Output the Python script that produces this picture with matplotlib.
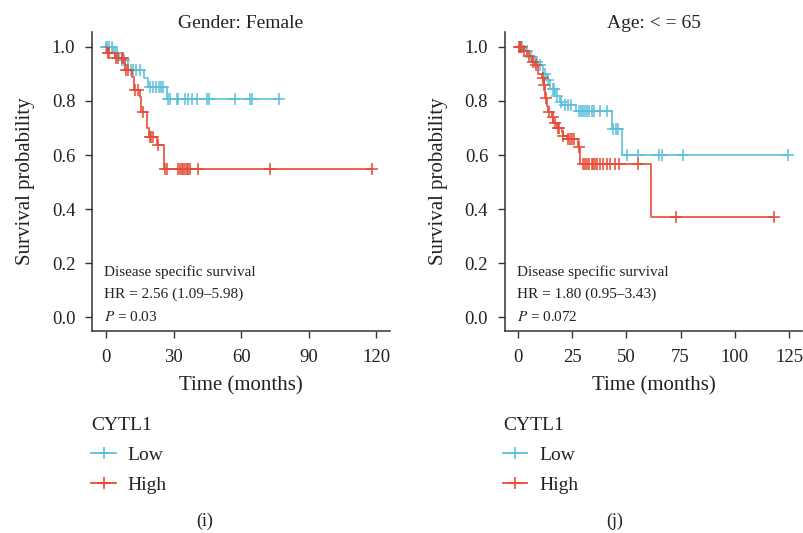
import numpy as np
import matplotlib.pyplot as plt
from matplotlib.lines import Line2D

plt.rcParams['font.family'] = ['Liberation Serif', 'DejaVu Serif']
plt.rcParams['mathtext.fontset'] = 'stix'

# --- (i) Gender: Female ---
f_low_t = [0, 3, 6, 10, 17, 18.5, 27]
f_low_s = [1.0, 0.976, 0.95, 0.914, 0.885, 0.853, 0.807]
f_low_cens = [0, 0.5, 1.5, 2.5, 4, 5, 7, 8, 11, 12, 13.5, 15, 19.5, 21, 22, 23.5, 24.5,
              25.5, 27.7, 28.4, 31.4, 32.1, 35.1, 36.6, 38.1, 40.3, 44.7, 45.5, 57.3,
              64, 64.7, 76.6]
f_high_t = [0, 0.5, 4, 8.4, 11.5, 12.5, 15, 15.7, 18, 19, 22.5, 25.8]
f_high_s = [1.0, 0.978, 0.96, 0.914, 0.89, 0.84, 0.815, 0.76, 0.70, 0.667, 0.636, 0.549]
f_high_cens = [1, 1.5, 4.5, 5.4, 7, 7.6, 9, 10, 13, 14, 16.5, 19.5, 20, 21, 23, 26.2, 27,
               32.1, 32.9, 33.6, 34.4, 35.1, 35.9, 36.6, 37.3, 41, 72.9, 118]

# --- (j) Age <= 65 ---
a_low_t = [0, 3.2, 5.5, 7, 9.4, 11.7, 13.2, 14.8, 17, 19.4, 20.1, 27, 43.2, 47.8]
a_low_s = [1.0, 0.983, 0.964, 0.945, 0.933, 0.90, 0.877, 0.846, 0.82, 0.797, 0.784,
           0.763, 0.695, 0.60]
a_low_cens = [1, 2, 4, 6, 8, 8.6, 10, 12.5, 14, 16, 16.5, 18, 19.8, 21.7, 23, 24.5, 28,
              29, 30, 31, 32, 33, 34, 35, 38, 41, 44, 45.2, 46.3, 50.1, 55.5, 65.2,
              66.3, 76, 124.7]
a_high_t = [0, 2.5, 4, 6.3, 7.8, 9.3, 10.9, 12, 12.5, 13.2, 14, 15.5, 16.3, 17.9, 20.1,
            20.9, 22.5, 27.8, 28.6, 61.3]
a_high_s = [1.0, 0.983, 0.966, 0.945, 0.933, 0.90, 0.884, 0.86, 0.81, 0.78, 0.76, 0.74,
            0.72, 0.70, 0.685, 0.67, 0.66, 0.63, 0.567, 0.373]
a_high_cens = [0.5, 1, 1.5, 3, 5, 7, 8.5, 11.5, 12.2, 13, 14.5, 16, 17, 18.5, 19, 21,
               23, 24, 25, 26, 28, 30.1, 30.9, 32, 32.9, 34, 34.7, 35.5, 36.3, 37.8,
               39.4, 40.9, 42.4, 44.7, 46.7, 55.5, 72.9, 118]

LOW_C = '#5BC0DA'
HIGH_C = '#E64B35'
TXT = '#222222'


def draw_km(ax, t, s, cens, color):
    t = np.asarray(t, float)
    s = np.asarray(s, float)
    end = max(t.max(), max(cens))
    x = np.append(t, end)
    y = np.append(s, s[-1])
    ax.step(x, y, where='post', color=color, lw=1.4, alpha=0.85)
    idx = np.searchsorted(t, cens, side='right') - 1
    ax.plot(cens, s[idx], ls='none', marker='+', ms=9, mew=1.4, color=color, alpha=0.8)


def style_axes(ax, xticks, xlim, title, lines):
    ax.set_xlim(*xlim)
    ax.set_ylim(-0.05, 1.055)
    ax.set_xticks(xticks)
    ax.set_yticks([0, 0.2, 0.4, 0.6, 0.8, 1.0])
    ax.set_yticklabels(['0.0', '0.2', '0.4', '0.6', '0.8', '1.0'])
    for side in ('top', 'right'):
        ax.spines[side].set_visible(False)
    for side in ('left', 'bottom'):
        ax.spines[side].set_color('#333333')
        ax.spines[side].set_linewidth(1.1)
    ax.tick_params(direction='out', length=5, width=1, colors='#333333',
                   labelsize=13.5, labelcolor=TXT)
    ax.tick_params(axis='y', pad=7)
    ax.tick_params(axis='x', pad=8)
    ax.set_title(title, fontsize=14, color=TXT, pad=2)
    ax.set_xlabel('Time (months)', fontsize=15, color=TXT, labelpad=7)
    ax.set_ylabel('Survival probability', fontsize=15, color=TXT, labelpad=12)
    ys = [0.197, 0.122, 0.048]
    for txt, yy in zip(lines, ys):
        ax.text(0.04, yy, txt, transform=ax.transAxes, fontsize=11, color=TXT,
                va='center', ha='left')


fig = plt.figure(figsize=(8.04, 5.33), dpi=100)
ax1 = fig.add_axes([0.1144, 0.379, 0.3706, 0.561])
ax2 = fig.add_axes([0.628, 0.379, 0.3695, 0.561])

draw_km(ax1, f_low_t, f_low_s, f_low_cens, LOW_C)
draw_km(ax1, f_high_t, f_high_s, f_high_cens, HIGH_C)
style_axes(ax1, [0, 30, 60, 90, 120], (-6.2, 126), 'Gender: Female',
           ['Disease specific survival', 'HR = 2.56 (1.09\u20135.98)', r'$\it{P}$ = 0.03'])

draw_km(ax2, a_low_t, a_low_s, a_low_cens, LOW_C)
draw_km(ax2, a_high_t, a_high_s, a_high_cens, HIGH_C)
style_axes(ax2, [0, 25, 50, 75, 100, 125], (-6.0, 131), 'Age: < = 65',
           ['Disease specific survival', 'HR = 1.80 (0.95\u20133.43)', r'$\it{P}$ = 0.072'])

handles = [Line2D([], [], color=LOW_C, marker='+', ms=9, mew=1.2, lw=1.3),
           Line2D([], [], color=HIGH_C, marker='+', ms=9, mew=1.2, lw=1.3)]
for x0 in (0.104, 0.616):
    leg = fig.legend(handles, ['Low', 'High'], title='CYTL1', loc='upper left',
                     bbox_to_anchor=(x0, 0.232), frameon=False, fontsize=14,
                     title_fontsize=14, alignment='left', handlelength=1.25,
                     handletextpad=0.6, labelspacing=0.62, borderpad=0.2,
                     borderaxespad=0.2)
    for t in leg.get_texts():
        t.set_color(TXT)
    leg.get_title().set_color(TXT)
    leg._legend_box.sep = 9

fig.text(205 / 804, 1 - 521 / 533, '(i)', ha='center', va='center', fontsize=13, color=TXT)
fig.text(615 / 804, 1 - 521 / 533, '(j)', ha='center', va='center', fontsize=13, color=TXT)

fig.savefig('out.png', dpi=100)
